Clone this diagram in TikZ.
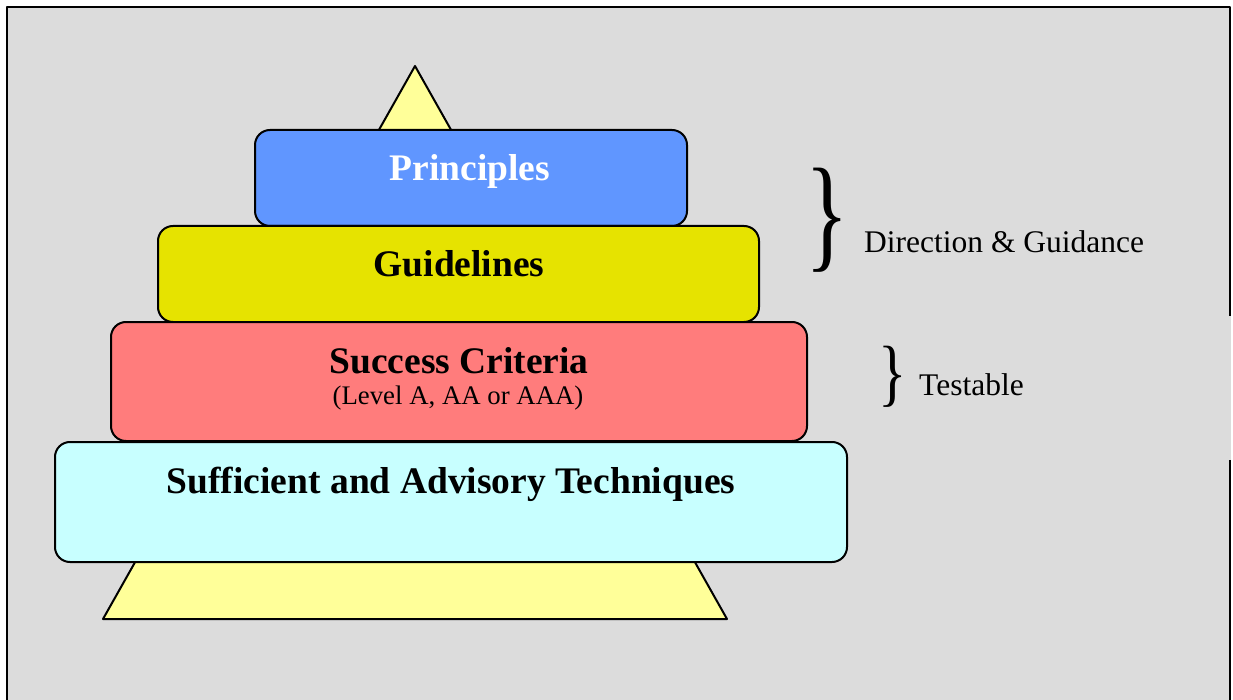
\documentclass[tikz,border=0pt]{standalone}
\usepackage{fontspec}
\setmainfont{Liberation Serif}
\usepackage{xcolor}
\definecolor{panelgray}{HTML}{DCDCDC}
\definecolor{pyramidyellow}{HTML}{FFFF99}
\definecolor{principleblue}{HTML}{6096FF}
\definecolor{guideyellow}{HTML}{E6E300}
\definecolor{criteriared}{HTML}{FF7C7C}
\definecolor{techcyan}{HTML}{C8FFFF}

\begin{document}
\begin{tikzpicture}[x=1pt,y=-1pt,line join=round]
    \tikzstyle{layer}=[draw=black, line width=2pt, rounded corners=15pt, inner sep=0pt]
    \tikzstyle{title}=[font=\fontsize{37.5}{44}\selectfont\bfseries, anchor=base, inner sep=0pt]
    \tikzstyle{note}=[font=\fontsize{31.5}{38}\selectfont, anchor=base west, inner sep=0pt]
    \tikzstyle{brace}=[inner sep=0pt, anchor=center]

    \useasboundingbox (0,0) rectangle (1233,700);

    % grey panel, open at the bottom
    \fill[panelgray] (7,7) rectangle (1231,700);
    \draw[line width=2.4pt] (7,700) -- (7,7) -- (1230,7) -- (1230,316);
    \draw[line width=2.4pt] (1230,460) -- (1230,700);

    % the pyramid behind the layers
    \draw[fill=pyramidyellow, line width=2pt] (415,66) -- (727,619) -- (103,619) -- cycle;

    % layers, top to bottom
    \node[layer, fill=principleblue, minimum width=432, minimum height=96] (P) at (471,178) {};
    \node[layer, fill=guideyellow, minimum width=601, minimum height=96] (G) at (458.5,274) {};
    \node[layer, fill=criteriared, minimum width=696, minimum height=119] (S) at (459,381.5) {};
    \node[layer, fill=techcyan, minimum width=792, minimum height=120] (T) at (451,502) {};

    \node[title, text=white] (P-text) at (470,181) {Principles};
    \node[title] (G-text) at (459,277) {Guidelines};
    \node[title] (S-text) at (459,373) {Success Criteria};
    \node[font=\fontsize{26.8}{32}\selectfont, anchor=base, inner sep=0pt] (S-sub) at (458,404) {(Level A, AA or AAA)};
    \node[title] (T-text) at (451,493) {Sufficient and Advisory Techniques};

    % side notes
    \node[brace, font=\fontsize{126}{130}\selectfont] (B-1) at (827,220) {\scalebox{0.72}[1]{\}}};
    \node[note] (N-1) at (864,253) {Direction \& Guidance};
    \node[brace, font=\fontsize{74}{80}\selectfont] (B-2) at (893,377) {\scalebox{0.8}[1]{\}}};
    \node[note] (N-2) at (919,395) {Testable};
\end{tikzpicture}
\end{document}
